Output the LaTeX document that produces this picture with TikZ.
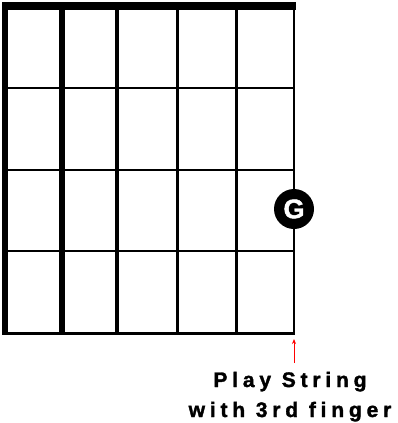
\documentclass[tikz,border=0pt]{standalone}
\usepackage{fontspec}
\setmainfont{Liberation Sans}
\newfontfamily\chordfont[LetterSpace=23, FakeBold=1.6]{Liberation Sans Bold}
\newfontfamily\fingerfont[FakeBold=1.6]{Liberation Sans Bold}
\usepackage{tikz}
\usetikzlibrary{positioning,arrows.meta}
\tikzset{every picture/.style={line width=0.75pt}}

\begin{document}
\begin{tikzpicture}[x=1pt, y=-1pt, >=stealth,
    fret/.style={line width=1.5pt},
    finger/.style={circle, fill=black, minimum size=40pt, inner sep=0pt, text=white, font=\fingerfont\fontsize{27}{27}\selectfont},
    caption/.style={anchor=base, font=\chordfont\fontsize{21}{21}\selectfont}]
        \useasboundingbox (0,0) rectangle (398,423);
        % nut
        \fill (2,2) rectangle (296,10);
        % strings, heavy to light
        \coordinate (s1) at (5,10);   \coordinate (e1) at (5,333);
        \coordinate (s2) at (62,10);  \coordinate (e2) at (62,333);
        \coordinate (s3) at (117,10); \coordinate (e3) at (117,333);
        \coordinate (s4) at (177,10); \coordinate (e4) at (177,333);
        \coordinate (s5) at (236,10); \coordinate (e5) at (236,333);
        \coordinate (s6) at (294,10); \coordinate (e6) at (294,333);
        \draw[line width=6.5pt] (s1) -- (e1);
        \draw[line width=6pt] (s2) -- (e2);
        \draw[line width=4pt] (s3) -- (e3);
        \draw[line width=3pt] (s4) -- (e4);
        \draw[line width=3pt] (s5) -- (e5);
        \draw[line width=2pt] (s6) -- (e6);
        % frets
        \draw[fret] (5,88) -- (294,88);
        \draw[fret] (5,170) -- (294,170);
        \draw[fret] (5,251) -- (294,251);
        \draw[line width=3pt] (2,333) -- (295,333);
        % finger on 1st string
        \node[finger] (g) at (294,209) {G};
        \coordinate (tip) at (294,363);
        \draw[-{Stealth[length=5pt, width=4pt]}, red, line width=1pt] (tip) -- ([yshift=-6pt]e6);
        \node[caption] (play) at (290,387) {Play String};
        \node[caption] (with) at (290,417) {with 3rd finger};
    \end{tikzpicture}
\end{document}
